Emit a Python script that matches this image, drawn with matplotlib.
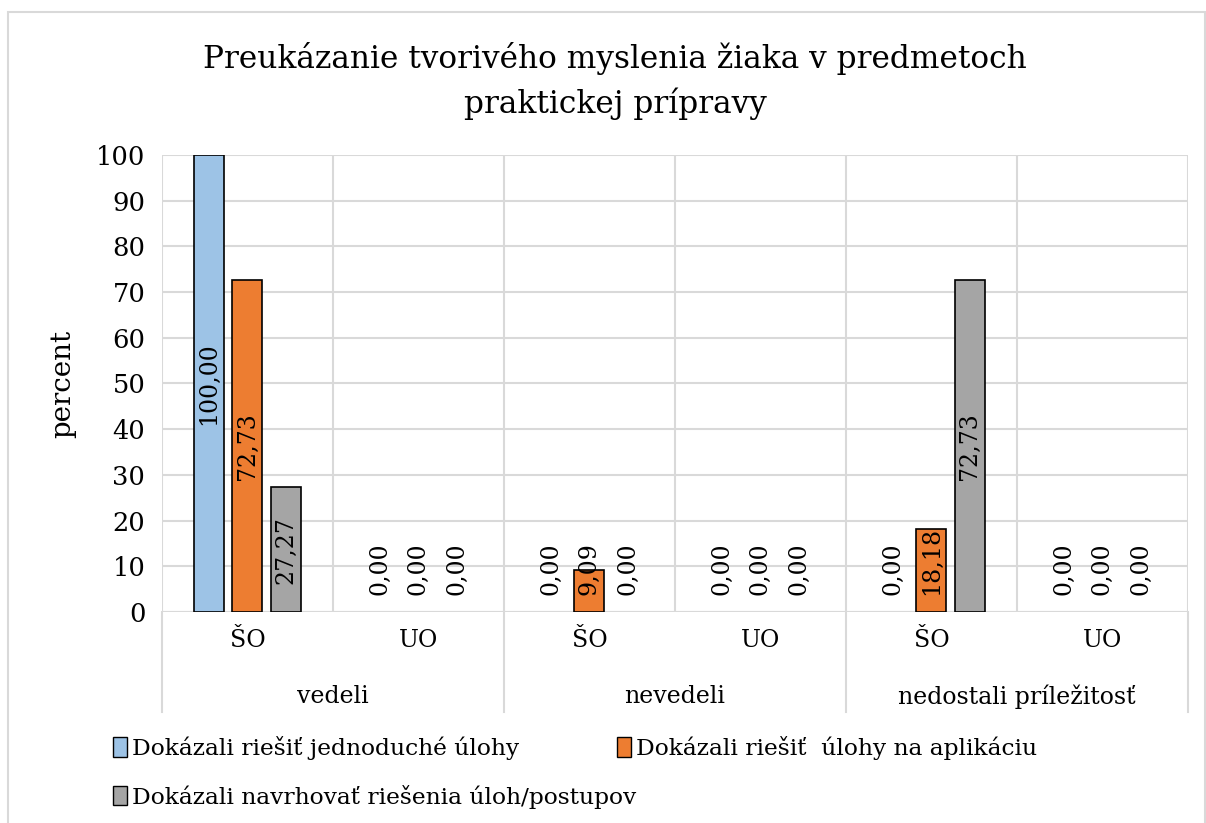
import matplotlib
matplotlib.use("Agg")
import matplotlib.pyplot as plt
import numpy as np
from matplotlib.patches import Patch, Rectangle
from matplotlib.lines import Line2D
from matplotlib.transforms import blended_transform_factory

plt.rcParams['font.family'] = ['DejaVu Serif']

# data
sub_labels = ["ŠO", "UO", "ŠO", "UO", "ŠO", "UO"]
group_labels = ["vedeli", "nevedeli", "nedostali príležitosť"]
series_names = ["Dokázali riešiť jednoduché úlohy",
                "Dokázali riešiť  úlohy na aplikáciu",
                "Dokázali navrhovať riešenia úloh/postupov"]
simple_tasks = [100.00, 0.00, 0.00, 0.00, 0.00, 0.00]
application_tasks = [72.73, 0.00, 9.09, 0.00, 18.18, 0.00]
design_tasks = [27.27, 0.00, 0.00, 0.00, 72.73, 0.00]
colors = ["#9DC3E6", "#ED7D31", "#A5A5A5"]

fig = plt.figure(figsize=(12.06, 8.23), dpi=100)
ax = fig.add_axes([0.1343, 0.2564, 0.8507, 0.5553])

x = np.arange(len(sub_labels))
width = 0.175
step = 0.225
all_series = [simple_tasks, application_tasks, design_tasks]
for i, vals in enumerate(all_series):
    pos = x + (i - 1) * step
    lw = [1.2 if v > 0 else 0 for v in vals]
    ax.bar(pos, vals, width, color=colors[i], edgecolor="black", linewidth=lw, zorder=3)
    for p, v in zip(pos, vals):
        lab = f"{v:.2f}".replace(".", ",")
        if v / 2 - 7.5 > 3.7:
            ax.text(p, v / 2, lab, rotation=90, ha="center", va="center",
                    fontsize=17, zorder=4)
        else:
            ax.text(p, 3.7, lab, rotation=90, ha="center", va="bottom",
                    fontsize=17, zorder=4)

ax.set_xlim(-0.5, len(sub_labels) - 0.5)
ax.set_ylim(0, 100)
ax.set_yticks(np.arange(0, 101, 10))
ax.tick_params(axis="y", labelsize=18.5, length=0, pad=12)
ax.set_xticks([])
ax.grid(axis="y", color="#D9D9D9", linewidth=1.5, zorder=0)
for b in np.arange(-0.5, len(sub_labels), 1):
    ax.axvline(b, color="#D9D9D9", linewidth=1.5, zorder=0)
for s in ax.spines.values():
    s.set_visible(False)
ax.axhline(0, color="#D9D9D9", linewidth=1.5, zorder=2)
ax.set_ylabel("percent", fontsize=20, labelpad=14)

# two-level category axis
tr = blended_transform_factory(ax.transData, ax.transAxes)
for xi, lab in zip(x, sub_labels):
    ax.text(xi, -0.062, lab, transform=tr, ha="center", va="center", fontsize=17)
for gi, lab in enumerate(group_labels):
    ax.text(gi * 2 + 0.5, -0.186, lab, transform=tr, ha="center", va="center", fontsize=17)
for b in [-0.5, 1.5, 3.5, 5.5]:
    ax.add_line(Line2D([b, b], [0, -0.219], transform=tr, color="#D9D9D9",
                       linewidth=1.5, clip_on=False))

fig.text(0.510, 0.902, "Preukázanie tvorivého myslenia žiaka v predmetoch\npraktickej prípravy",
         ha="center", va="center", fontsize=22.5, linespacing=1.5)

# legend: two rows, placed like the original
handles = [Patch(facecolor=c, edgecolor="black", linewidth=1) for c in colors]
leg_kw = dict(frameon=False, fontsize=16.8, handlelength=0.6, handleheight=0.9,
              handletextpad=0.2, borderaxespad=0, borderpad=0)
fig.legend(handles[:2], series_names[:2], loc="center left",
           bbox_to_anchor=(0.094, 0.091), ncol=2, columnspacing=4.2, **leg_kw)
fig.legend(handles[2:], series_names[2:], loc="center left",
           bbox_to_anchor=(0.094, 0.032), **leg_kw)

fig.patches.append(Rectangle((0.007, -0.01), 0.992, 0.995, transform=fig.transFigure,
                             fill=False, edgecolor="#D9D9D9", linewidth=1.5))

fig.savefig("out.png", dpi=100)
